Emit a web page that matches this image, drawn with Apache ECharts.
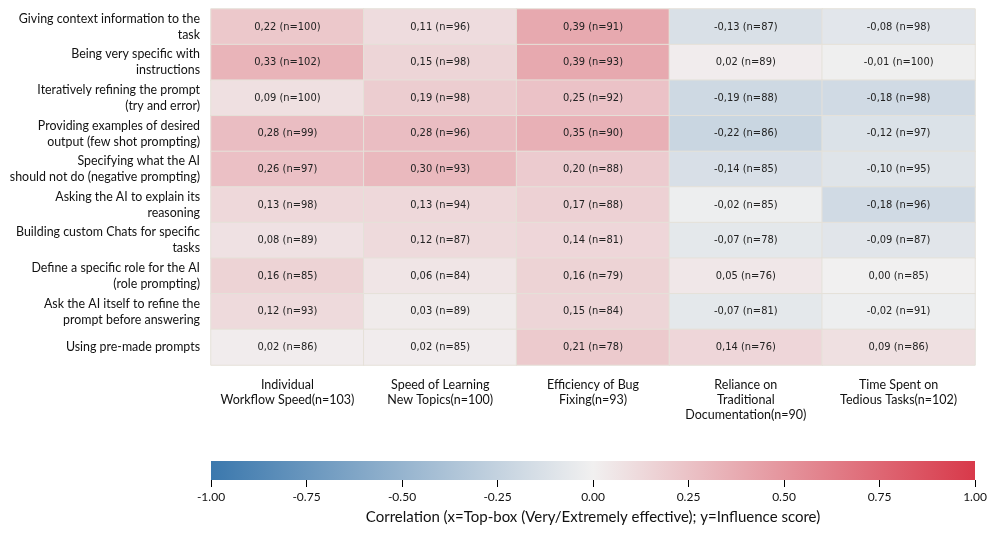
<!DOCTYPE html>
<html><head><meta charset="utf-8">
<script src="https://cdn.jsdelivr.net/npm/echarts@6/dist/echarts.min.js"></script>
<style>html,body{margin:0;padding:0;background:#fff}#c{width:996px;height:534px}</style>
</head><body><div id="c"></div>
<script>
const rowLabels = [
  "Giving context information to the\ntask",
  "Being very specific with\ninstructions",
  "Iteratively refining the prompt\n(try and error)",
  "Providing examples of desired\noutput (few shot prompting)",
  "Specifying what the AI\nshould not do (negative prompting)",
  "Asking the AI to explain its\nreasoning",
  "Building custom Chats for specific\ntasks",
  "Define a specific role for the AI\n(role prompting)",
  "Ask the AI itself to refine the\nprompt before answering",
  "Using pre-made prompts"
];
const colLabels = [
  "Individual\nWorkflow Speed(n=103)",
  "Speed of Learning\nNew Topics(n=100)",
  "Efficiency of Bug\nFixing(n=93)",
  "Reliance on\nTraditional\nDocumentation(n=90)",
  "Time Spent on\nTedious Tasks(n=102)"
];
const corr = [
  [0.22, 0.11, 0.39, -0.13, -0.08],
  [0.33, 0.15, 0.39, 0.02, -0.01],
  [0.09, 0.19, 0.25, -0.19, -0.18],
  [0.28, 0.28, 0.35, -0.22, -0.12],
  [0.26, 0.30, 0.20, -0.14, -0.10],
  [0.13, 0.13, 0.17, -0.02, -0.18],
  [0.08, 0.12, 0.14, -0.07, -0.09],
  [0.16, 0.06, 0.16, 0.05, 0.00],
  [0.12, 0.03, 0.15, -0.07, -0.02],
  [0.02, 0.02, 0.21, 0.14, 0.09]
];
const counts = [
  [100, 96, 91, 87, 98],
  [102, 98, 93, 89, 100],
  [100, 98, 92, 88, 98],
  [99, 96, 90, 86, 97],
  [97, 93, 88, 85, 95],
  [98, 94, 88, 85, 96],
  [89, 87, 81, 78, 87],
  [85, 84, 79, 76, 85],
  [93, 89, 84, 81, 91],
  [86, 85, 78, 76, 86]
];
const colorbarTicks = [-1, -0.75, -0.5, -0.25, 0, 0.25, 0.5, 0.75, 1];
const colorbarTitle = "Correlation (x=Top-box (Very/Extremely effective); y=Influence score)";
const cmapColors = ['#3b78ad', '#f1f0f0', '#d8394a'];

const data = [];
corr.forEach((row, i) => row.forEach((v, j) => data.push([j, i, v, counts[i][j]])));

const labelFont = 'Lato, "Noto Sans", sans-serif';

const chart = echarts.init(document.getElementById('c'), null, {renderer: 'canvas'});
chart.setOption({
  backgroundColor: '#fff',
  animation: false,
  grid: [
    {left: 211, top: 9, width: 764, height: 356},
    {left: 211, top: 461, width: 764, height: 19}
  ],
  xAxis: [
    {type: 'category', gridIndex: 0, data: colLabels, position: 'bottom',
     axisLine: {show: false}, axisTick: {show: false}, splitLine: {show: false},
     axisLabel: {margin: 12, fontFamily: labelFont, fontSize: 12.5, color: '#111', lineHeight: 15, interval: 0, verticalAlign: 'top'}},
    {type: 'value', gridIndex: 1, min: -1, max: 1, interval: 0.25,
     axisLine: {show: false}, splitLine: {show: false},
     axisTick: {show: true, length: 7, lineStyle: {color: '#000', width: 1}},
     axisLabel: {margin: 11, fontFamily: labelFont, fontSize: 12, color: '#111',
       formatter: v => v.toFixed(2)},
     name: colorbarTitle, nameLocation: 'middle', nameGap: 30,
     nameTextStyle: {fontFamily: labelFont, fontSize: 15, color: '#111'}}
  ],
  yAxis: [
    {type: 'category', gridIndex: 0, data: rowLabels, inverse: true,
     axisLine: {show: false}, axisTick: {show: false}, splitLine: {show: false},
     axisLabel: {margin: 11, fontFamily: labelFont, fontSize: 12.4, color: '#111', lineHeight: 16, interval: 0, align: 'right'}},
    {type: 'value', gridIndex: 1, min: 0, max: 1, show: false}
  ],
  visualMap: {
    show: false, type: 'continuous', min: -1, max: 1, dimension: 2, seriesIndex: 0,
    inRange: {color: cmapColors}
  },
  series: [
    {type: 'heatmap', xAxisIndex: 0, yAxisIndex: 0, data: data,
     itemStyle: {borderColor: '#e5e1d9', borderWidth: 1},
     label: {show: true, fontFamily: '"DejaVu Sans Condensed", "DejaVu Sans", sans-serif', fontSize: 11, color: '#222',
       formatter: p => p.data[2].toFixed(2).replace('.', ',').replace(/^-0,00$/, '0,00') + ' (n=' + p.data[3] + ')'}},
    {type: 'custom', xAxisIndex: 1, yAxisIndex: 1, data: [[-1, 1]],
     renderItem: (params, api) => {
       const p0 = api.coord([api.value(0), 1]);
       const p1 = api.coord([api.value(1), 0]);
       return {type: 'rect', shape: {x: p0[0], y: p0[1], width: p1[0] - p0[0], height: p1[1] - p0[1]},
         style: {fill: new echarts.graphic.LinearGradient(0, 0, 1, 0, [
           {offset: 0, color: cmapColors[0]}, {offset: 0.5, color: cmapColors[1]}, {offset: 1, color: cmapColors[2]}])}};
     }, silent: true}
  ]
});
</script></body></html>
